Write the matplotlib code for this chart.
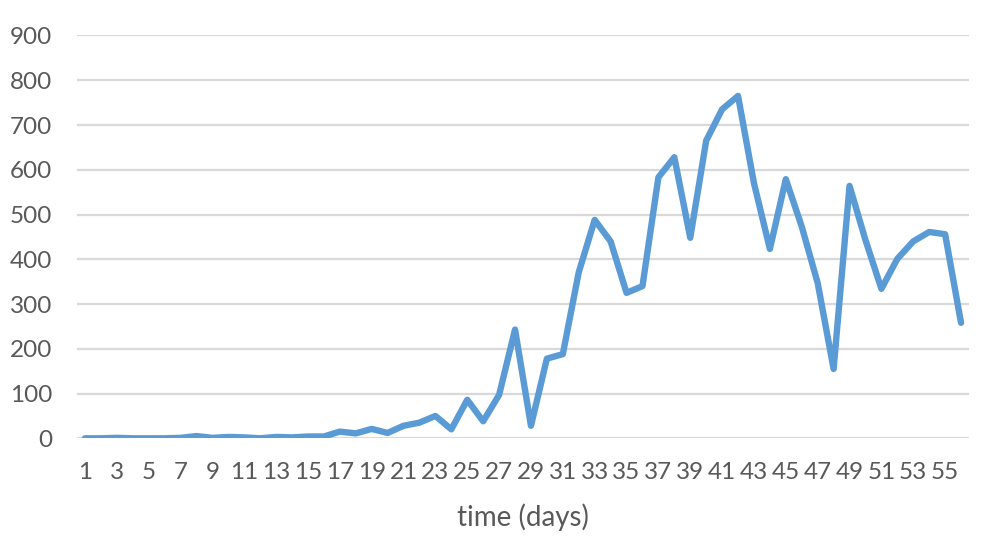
import matplotlib
matplotlib.use('Agg')
import matplotlib.pyplot as plt
import numpy as np

plt.rcParams['font.family'] = ['Lato', 'DejaVu Sans']

# daily counts
days = np.arange(1, 57)
counts = [0, 0, 1, 0, 0, 0, 1, 5, 1, 3,
          2, 0, 3, 2, 4, 4, 15, 11, 21, 12,
          28, 35, 50, 20, 86, 38, 97, 243, 28, 178,
          188, 371, 488, 440, 325, 340, 583, 628, 448, 665,
          735, 765, 570, 423, 579, 473, 347, 155, 564, 443,
          334, 401, 440, 461, 456, 258]

y_ticks = list(range(0, 1000, 100))
x_ticks = list(range(1, 57, 2))

text_color = '#595959'
grid_color = '#D9D9D9'
line_color = '#5B9BD5'

fig = plt.figure(figsize=(9.87, 5.42), dpi=100)
ax = fig.add_axes([77 / 987, 1 - 438.3 / 542, 892 / 987, (438.3 - 35.5) / 542])

ax.plot(days, counts, color=line_color, linewidth=4.6, solid_joinstyle='round',
        solid_capstyle='round', zorder=3)

ax.set_xlim(0.5, 56.5)
ax.set_ylim(0, 900)
ax.set_yticks(y_ticks)
ax.set_xticks(x_ticks)
ax.grid(axis='y', color=grid_color, linewidth=1.6, zorder=0)
ax.set_axisbelow(True)
for s in ax.spines.values():
    s.set_visible(False)

ax.tick_params(axis='both', length=0, labelsize=17.5, labelcolor=text_color)
ax.tick_params(axis='y', pad=18)
ax.tick_params(axis='x', pad=17)
ax.set_xlabel('time (days)', fontsize=20, color=text_color, labelpad=15)

fig.savefig('out.png', dpi=100)
